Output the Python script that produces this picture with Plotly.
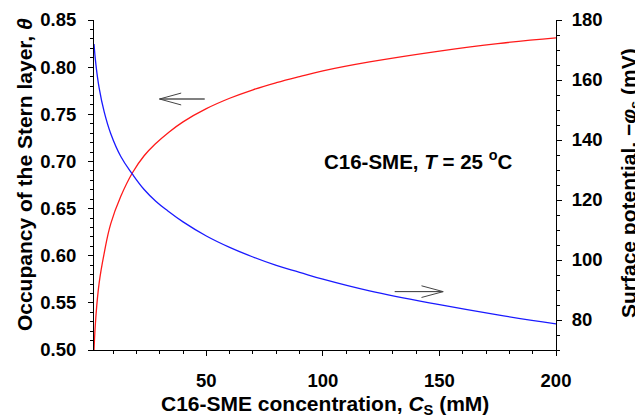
import plotly.graph_objects as go

# Concentration of C16-SME (mM)
conc = [1.8, 2.6, 4, 6.2, 9, 13.3, 18.3, 23.3, 28.3, 33.4, 40, 50, 60, 70, 80,
        90, 100, 120, 150, 175, 200]
# Occupancy of the Stern layer (left axis)
theta = [0.500, 0.535, 0.571, 0.603, 0.634, 0.663, 0.688, 0.706, 0.719, 0.730,
         0.742, 0.756, 0.767, 0.776, 0.7835, 0.790, 0.796, 0.8055, 0.817, 0.825, 0.831]
# Surface potential, -phi_s (mV) (right axis)
phi = [172.0, 165.3, 157.4, 149.3, 142.1, 134.5, 128.6, 123.5, 119.6, 116.4,
       112.7, 108.0, 104.2, 101.0, 98.2, 95.9, 93.6, 89.7, 85.1, 81.7, 78.7]

x_ticks = [50, 100, 150, 200]
y_ticks = [0.50, 0.55, 0.60, 0.65, 0.70, 0.75, 0.80, 0.85]
y2_ticks = [80, 100, 120, 140, 160, 180]

X_RANGE = [1.8, 200]
Y_RANGE = [0.50, 0.85]
Y2_RANGE = [70, 180]

FONT = "Liberation Sans, Arial, sans-serif"
tickfont = dict(family=FONT, size=18.5, color="black", weight="bold")

fig = go.Figure()
fig.add_trace(go.Scatter(x=conc, y=theta, mode="lines",
                         line=dict(color="#ff1a1a", width=1.3, shape="spline", smoothing=1.2),
                         xaxis="x", yaxis="y", showlegend=False, hoverinfo="skip"))
fig.add_trace(go.Scatter(x=conc, y=phi, mode="lines",
                         line=dict(color="#1a1aff", width=1.3, shape="spline", smoothing=1.2),
                         xaxis="x", yaxis="y2", showlegend=False, hoverinfo="skip"))

common_line = dict(showline=True, linecolor="black", linewidth=1, showgrid=False, zeroline=False,
                   tickcolor="black", tickwidth=1, automargin=False)

# The page adds an 8 px body margin, so the figure is offset to compensate.
fig.update_layout(
    width=635, height=411,
    margin=dict(l=86, r=87, t=12, b=69, autoexpand=False),
    paper_bgcolor="white", plot_bgcolor="white",
    xaxis=dict(range=X_RANGE, tickvals=x_ticks, ticks="outside", ticklen=5, tickfont=tickfont,
               ticklabelstandoff=9,
               minor=dict(dtick=10, tick0=0, ticks="outside", ticklen=3, tickcolor="black"),
               **common_line),
    xaxis2=dict(range=X_RANGE, overlaying="x", anchor="y", side="bottom", tickvals=x_ticks,
                ticks="inside", ticklen=5, showticklabels=False, mirror="ticks",
                minor=dict(dtick=10, tick0=0, ticks="inside", ticklen=3, tickcolor="black"),
                **common_line),
    xaxis3=dict(range=X_RANGE, overlaying="x", anchor="y", side="top", tickvals=x_ticks,
                ticks="outside", ticklen=5, showticklabels=False, **common_line),
    yaxis=dict(range=Y_RANGE, tickvals=y_ticks, tickformat=".2f", ticks="outside", ticklen=5,
               tickfont=tickfont, ticklabelstandoff=8,
               minor=dict(dtick=0.01, tick0=0.5, ticks="outside", ticklen=3, tickcolor="black"),
               **common_line),
    yaxis3=dict(range=Y_RANGE, overlaying="y", anchor="x", side="left", tickvals=y_ticks,
                ticks="inside", ticklen=5, showticklabels=False, **common_line),
    yaxis2=dict(range=Y2_RANGE, overlaying="y", anchor="x", side="right", tickvals=y2_ticks,
                ticks="outside", ticklen=5, tickfont=tickfont, ticklabelstandoff=6,
                minor=dict(dtick=5, tick0=70, ticks="outside", ticklen=3, tickcolor="black"),
                **common_line),
    yaxis4=dict(range=Y2_RANGE, overlaying="y", anchor="x", side="right", tickvals=y2_ticks,
                ticks="inside", ticklen=5, showticklabels=False, **common_line),
)

title_font = dict(family=FONT, size=21, color="black", weight="bold")
annotations = [
    dict(text="Occupancy of the Stern layer, <i>θ</i>", xref="paper", yref="paper",
         x=-0.1515, y=0.53, textangle=-90, showarrow=False, font=title_font,
         xanchor="center", yanchor="middle"),
    dict(text="Surface potential, −<i>φ</i><sub>s</sub> (mV)", xref="paper", yref="paper",
         x=1.1602, y=0.506, textangle=-90, showarrow=False, font=title_font,
         xanchor="center", yanchor="middle"),
    dict(text="C16-SME concentration, <i>C</i><sub>S</sub> (mM)", xref="paper", yref="paper",
         x=0.5, y=-0.167, showarrow=False, font=title_font, xanchor="center", yanchor="middle"),
    dict(text="C16-SME, <i>T</i> = 25 <sup>o</sup>C", xref="x", yref="y",
         x=140.7, y=0.7015, showarrow=False, font=dict(family=FONT, size=20.5, color="black", weight="bold"),
         xanchor="center", yanchor="middle"),
]
fig.update_layout(annotations=annotations)

# Arrows indicating which axis each curve belongs to
left_arrow = dict(tail=(49.3, 0.7662), tip=(29.9, 0.7662), head=(39.2, 0.0063))
right_arrow = dict(tail=(130.8, 0.5619), tip=(151.6, 0.5619), head=(142.3, 0.0062))
shapes = []
for arr, col, w in [(left_arrow, "#808080", 2), (right_arrow, "#333333", 1)]:
    (tx, ty), (px, py), (hx, hd) = arr["tail"], arr["tip"], arr["head"]
    shapes.append(dict(type="line", xref="x", yref="y", x0=tx, y0=ty, x1=px, y1=py,
                       line=dict(color=col, width=w)))
    shapes.append(dict(type="path", xref="x", yref="y",
                       path=f"M {hx},{py + hd} L {px},{py} L {hx},{py - hd}",
                       line=dict(color="#444444", width=1)))
fig.update_layout(shapes=shapes)

fig.write_html("out.html")
